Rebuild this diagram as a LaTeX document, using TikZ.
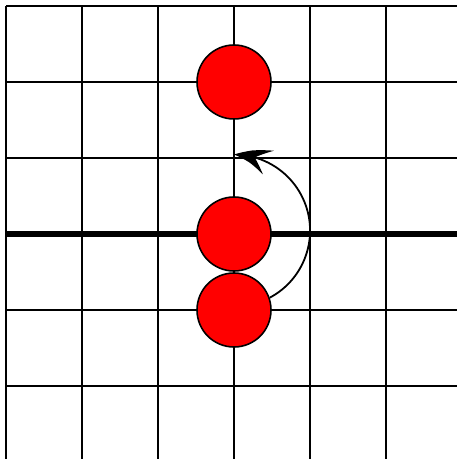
\documentclass[tikz,border=0pt]{standalone}
\usetikzlibrary{arrows.meta,bending}
\begin{document}
\begin{tikzpicture}[x=1pt,y=1pt,
  gridline/.style={line width=2pt},
  axisline/.style={line width=6pt},
  dot/.style={circle,draw,fill=red,line width=1.6pt,minimum size=74pt,inner sep=0pt},
  move/.style={line width=1.8pt,-{Stealth[length=36pt,width=26pt,inset=15pt,bend]}}]
\useasboundingbox (0,0) rectangle (457,459);
\foreach \x in {6,82,158,234,310,386} \draw[gridline] (\x,0) -- (\x,453);
\foreach \y in {453,377,301,149,73} \draw[gridline] (6,\y) -- (457,\y);
\draw[axisline] (6,225) -- (457,225);
\node[dot] (c1) at (234,377) {};
\node[dot] (c2) at (234,225) {};
\node[dot] (c3) at (234,149) {};
\draw[move] (c3.19) arc[start angle=-62,end angle=90,radius=76];
\end{tikzpicture}
\end{document}
